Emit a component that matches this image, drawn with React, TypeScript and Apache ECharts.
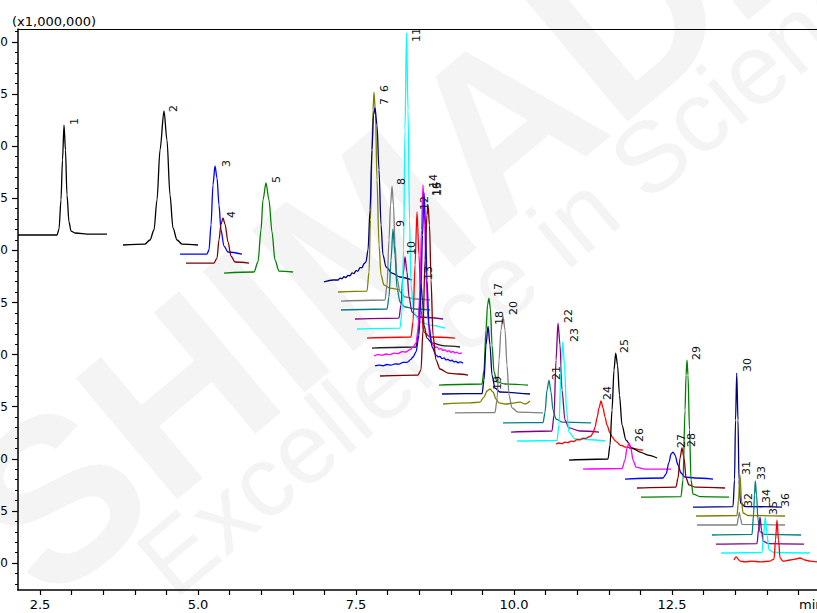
import React, { useEffect, useRef } from "react";
import * as echarts from "echarts";

// ---- axis ticks / labels ----
const xLabelValues = [2.5, 5.0, 7.5, 10.0, 12.5];
const xTickValues = [2.5, 3.0, 3.5, 4.0, 4.5, 5.0, 5.5, 6.0, 6.5, 7.0, 7.5, 8.0, 8.5, 9.0, 9.5, 10.0, 10.5, 11.0, 11.5, 12.0, 12.5, 13.0, 13.5, 14.0, 14.5];
const yLabelValues = [0, 0.5, 1.0, 1.5, 2.0, 2.5, 3.0, 3.5, 4.0, 4.5, 5.0];
const yMinorValues = [-0.2, -0.1, 0, 0.1, 0.2, 0.3, 0.4, 0.5, 0.6, 0.7, 0.8, 0.9, 1.0, 1.1, 1.2, 1.3, 1.4, 1.5, 1.6, 1.7, 1.8, 1.9, 2.0, 2.1, 2.2, 2.3, 2.4, 2.5, 2.6, 2.7, 2.8, 2.9, 3.0, 3.1, 3.2, 3.3, 3.4, 3.5, 3.6, 3.7, 3.8, 3.9, 4.0, 4.1, 4.2, 4.3, 4.4, 4.5, 4.6, 4.7, 4.8, 4.9, 5.0, 5.1];

// ---- traces: [retention time (min), intensity (x1,000,000)] ----
const t1 = [[2.152,3.148],[2.769,3.148],[2.801,3.205],[2.832,3.484],[2.856,3.868],[2.880,4.203],[2.903,3.964],[2.927,3.532],[2.959,3.273],[2.991,3.186],[3.054,3.167],[3.291,3.157],[3.560,3.157]];
const t2 = [[3.813,3.052],[4.161,3.061],[4.240,3.100],[4.304,3.196],[4.351,3.484],[4.399,3.964],[4.462,4.338],[4.509,4.060],[4.557,3.532],[4.604,3.215],[4.668,3.100],[4.747,3.061],[5.000,3.052]];
const t3 = [[4.715,2.965],[5.142,2.965],[5.174,3.004],[5.206,3.244],[5.237,3.628],[5.269,3.810],[5.301,3.695],[5.332,3.436],[5.364,3.196],[5.411,3.042],[5.475,2.985],[5.696,2.965]];
const t4 = [[4.810,2.879],[5.253,2.879],[5.301,2.927],[5.332,3.100],[5.364,3.253],[5.396,3.311],[5.427,3.253],[5.475,3.081],[5.522,2.946],[5.585,2.889],[5.807,2.879]];
const t5 = [[5.411,2.783],[5.886,2.793],[5.949,2.889],[5.997,3.196],[6.028,3.484],[6.076,3.647],[6.123,3.484],[6.171,3.177],[6.218,2.908],[6.282,2.802],[6.503,2.793]];
const t6 = [[7.215,2.601],[7.674,2.610],[7.706,2.793],[7.729,3.292],[7.753,3.964],[7.769,4.347],[7.785,4.520],[7.809,4.299],[7.832,3.676],[7.864,3.052],[7.896,2.764],[7.943,2.668],[8.038,2.639],[8.196,2.620]];
const t7 = [[6.994,2.697],[7.136,2.716],[7.215,2.716],[7.247,2.735],[7.278,2.728],[7.310,2.748],[7.342,2.740],[7.373,2.760],[7.405,2.757],[7.437,2.784],[7.468,2.778],[7.500,2.806],[7.532,2.802],[7.563,2.835],[7.595,2.833],[7.627,2.872],[7.658,2.889],[7.690,3.004],[7.722,3.388],[7.753,3.964],[7.777,4.299],[7.801,4.367],[7.832,4.203],[7.864,3.772],[7.896,3.244],[7.927,2.956],[7.975,2.841],[8.070,2.783],[8.196,2.745],[8.386,2.716]];
const t8 = [[7.263,2.514],[7.959,2.524],[7.991,2.668],[8.022,3.100],[8.046,3.436],[8.070,3.618],[8.093,3.436],[8.117,3.052],[8.149,2.735],[8.196,2.601],[8.275,2.553],[8.434,2.534],[8.671,2.524]];
const t9 = [[7.263,2.428],[7.991,2.438],[8.022,2.553],[8.054,2.908],[8.085,3.205],[8.117,2.956],[8.149,2.639],[8.196,2.505],[8.275,2.457],[8.434,2.438],[8.671,2.428]];
const t10 = [[7.484,2.342],[8.180,2.351],[8.212,2.476],[8.244,2.764],[8.275,2.937],[8.307,2.793],[8.339,2.553],[8.386,2.409],[8.481,2.361],[8.877,2.342]];
const t11 = [[7.516,2.246],[8.196,2.255],[8.228,2.409],[8.252,3.004],[8.275,4.155],[8.299,5.086],[8.323,4.347],[8.347,3.292],[8.370,2.668],[8.418,2.399],[8.513,2.313],[8.671,2.284],[8.908,2.255]];
const t12 = [[7.674,2.159],[8.370,2.169],[8.402,2.313],[8.434,2.860],[8.465,3.369],[8.497,2.956],[8.528,2.428],[8.576,2.217],[8.671,2.169],[9.066,2.159]];
const t13 = [[7.753,2.063],[8.449,2.073],[8.481,2.188],[8.505,2.476],[8.528,2.687],[8.552,2.524],[8.576,2.284],[8.623,2.159],[8.703,2.111],[8.908,2.083],[9.146,2.073]];
const t14 = [[7.785,1.987],[7.848,2.000],[7.911,1.993],[7.974,2.006],[8.038,2.000],[8.101,2.014],[8.165,2.010],[8.228,2.028],[8.291,2.025],[8.354,2.048],[8.402,2.073],[8.449,2.111],[8.481,2.236],[8.513,2.620],[8.536,3.196],[8.560,3.628],[8.584,3.340],[8.608,2.764],[8.639,2.332],[8.671,2.159],[8.718,2.092],[8.750,2.070],[8.782,2.075],[8.814,2.052],[8.845,2.058],[8.877,2.040],[8.908,2.046],[8.940,2.030],[8.972,2.038],[9.003,2.022],[9.035,2.030],[9.067,2.015],[9.098,2.024],[9.130,2.010],[9.177,2.018]];
const t15 = [[7.801,1.891],[7.864,1.900],[7.927,1.893],[7.990,1.905],[8.054,1.899],[8.117,1.912],[8.180,1.908],[8.244,1.925],[8.307,1.925],[8.370,1.955],[8.402,1.977],[8.449,2.025],[8.497,2.188],[8.528,2.620],[8.552,3.148],[8.576,3.551],[8.600,3.244],[8.623,2.716],[8.655,2.284],[8.703,2.073],[8.766,1.996],[8.798,1.978],[8.829,1.982],[8.861,1.962],[8.893,1.968],[8.924,1.950],[8.956,1.955],[8.987,1.940],[9.019,1.946],[9.051,1.930],[9.082,1.936],[9.114,1.922],[9.146,1.930],[9.193,1.918]];
const t16 = [[7.880,1.795],[8.481,1.804],[8.528,1.852],[8.560,2.236],[8.592,2.908],[8.623,3.340],[8.639,3.436],[8.663,3.244],[8.687,2.716],[8.718,2.188],[8.766,1.948],[8.829,1.862],[8.956,1.823],[9.114,1.814],[9.272,1.804]];
const t17 = [[8.813,1.708],[9.494,1.718],[9.525,1.852],[9.557,2.236],[9.581,2.476],[9.604,2.543],[9.628,2.428],[9.652,2.092],[9.684,1.833],[9.731,1.737],[9.858,1.718],[10.222,1.708]];
const t18 = [[8.861,1.622],[9.494,1.626],[9.525,1.756],[9.557,2.092],[9.589,2.274],[9.620,2.092],[9.652,1.804],[9.699,1.679],[9.778,1.641],[10.253,1.622]];
const t19 = [[8.877,1.526],[9.304,1.536],[9.462,1.545],[9.525,1.593],[9.573,1.651],[9.620,1.670],[9.668,1.641],[9.715,1.574],[9.763,1.536],[9.858,1.526],[10.016,1.536],[10.095,1.545],[10.174,1.526],[10.253,1.555]];
const t20 = [[9.066,1.440],[9.699,1.444],[9.731,1.564],[9.763,1.948],[9.794,2.236],[9.826,2.370],[9.858,2.236],[9.889,1.900],[9.921,1.612],[9.968,1.488],[10.063,1.449],[10.459,1.440]];
const t21 = [[9.826,1.344],[10.459,1.348],[10.491,1.449],[10.522,1.660],[10.554,1.756],[10.585,1.641],[10.617,1.468],[10.665,1.382],[10.759,1.353],[11.218,1.344]];
const t22 = [[9.953,1.257],[10.601,1.267],[10.633,1.420],[10.665,1.948],[10.696,2.303],[10.728,2.092],[10.759,1.660],[10.807,1.372],[10.870,1.296],[11.044,1.267],[11.345,1.257]];
const t23 = [[10.047,1.171],[10.680,1.176],[10.712,1.324],[10.744,1.852],[10.770,2.121],[10.799,1.900],[10.830,1.468],[10.870,1.257],[10.965,1.190],[11.440,1.171]];
const t24 = [[10.665,1.142],[10.712,1.152],[10.759,1.146],[10.807,1.160],[10.854,1.155],[10.901,1.170],[10.949,1.166],[10.996,1.184],[11.044,1.182],[11.092,1.198],[11.139,1.196],[11.187,1.212],[11.218,1.219],[11.250,1.248],[11.282,1.305],[11.313,1.392],[11.345,1.488],[11.377,1.555],[11.408,1.488],[11.440,1.401],[11.472,1.324],[11.519,1.248],[11.566,1.200],[11.598,1.175],[11.630,1.160],[11.677,1.132],[11.709,1.128],[11.756,1.113],[11.803,1.112],[11.851,1.098],[11.914,1.098],[11.978,1.087],[12.041,1.084]];
const t25 = [[10.870,0.988],[11.487,0.998],[11.519,1.132],[11.551,1.468],[11.582,1.852],[11.609,2.015],[11.638,1.900],[11.669,1.612],[11.709,1.324],[11.772,1.180],[11.867,1.104],[11.994,1.065],[12.120,1.036],[12.263,1.008]];
const t26 = [[11.092,0.902],[11.709,0.907],[11.756,0.988],[11.788,1.104],[11.820,1.152],[11.851,1.094],[11.883,0.988],[11.930,0.921],[12.073,0.902],[12.484,0.902]];
const t27 = [[11.756,0.806],[12.358,0.816],[12.405,0.854],[12.453,0.969],[12.484,1.046],[12.516,1.065],[12.547,1.036],[12.595,0.940],[12.642,0.864],[12.706,0.825],[12.864,0.816],[13.149,0.806]];
const t28 = [[11.946,0.720],[12.563,0.729],[12.595,0.816],[12.627,1.008],[12.658,1.104],[12.690,1.008],[12.722,0.816],[12.769,0.749],[12.864,0.729],[13.339,0.720]];
const t29 = [[12.009,0.633],[12.642,0.638],[12.674,0.797],[12.706,1.468],[12.722,1.804],[12.737,1.948],[12.753,1.804],[12.777,1.276],[12.801,0.797],[12.832,0.662],[12.943,0.638],[13.402,0.633]];
const t30 = [[12.832,0.537],[13.465,0.542],[13.489,0.797],[13.505,1.372],[13.524,1.823],[13.544,1.372],[13.560,0.797],[13.584,0.576],[13.655,0.542],[14.241,0.537]];
const t31 = [[12.880,0.451],[13.528,0.456],[13.552,0.605],[13.576,0.845],[13.599,0.605],[13.623,0.480],[13.703,0.456],[14.288,0.451]];
const t32 = [[12.896,0.365],[13.528,0.365],[13.549,0.432],[13.565,0.489],[13.581,0.432],[13.608,0.370],[14.288,0.365]];
const t33 = [[13.133,0.269],[13.766,0.274],[13.790,0.461],[13.805,0.653],[13.818,0.787],[13.837,0.653],[13.861,0.413],[13.892,0.298],[13.972,0.274],[14.541,0.269]];
const t34 = [[13.196,0.182],[13.845,0.187],[13.869,0.317],[13.892,0.441],[13.916,0.317],[13.940,0.211],[14.019,0.187],[14.589,0.182]];
const t35 = [[13.275,0.096],[13.924,0.101],[13.948,0.269],[13.976,0.441],[14.003,0.269],[14.035,0.125],[14.114,0.101],[14.684,0.096]];
const t36 = [[13.481,0.029],[13.513,0.058],[13.576,0.019],[13.655,0.010],[13.766,0.019],[13.892,0.010],[14.051,0.019],[14.114,0.038],[14.138,0.221],[14.161,0.413],[14.185,0.221],[14.209,0.048],[14.256,0.019],[14.367,0.029],[14.446,0.038],[14.525,0.048],[14.604,0.029],[14.684,0.019],[14.794,0.010]];

const peakNames = ["1","2","3","4","5","6","7","8","9","10","11","12","13","14","15","16","17","18","19","20","21","22","23","24","25","26","27","28","29","30","31","32","33","34","35","36"];

const traces = [t1,t2,t3,t4,t5,t6,t7,t8,t9,t10,t11,t12,t13,t14,t15,t16,t17,t18,t19,t20,t21,t22,t23,t24,t25,t26,t27,t28,t29,t30,t31,t32,t33,t34,t35,t36];

// styling
const traceColors = ["#000000","#000000","#0000ff","#800000","#008000","#808000","#000080","#808080","#008080","#800080","#00ffff","#ff0000","#202020","#ff00ff","#0000ff","#800000","#008000","#000080","#808000","#808080","#008080","#800080","#00ffff","#ff0000","#000000","#ff00ff","#0000ff","#800000","#008000","#000080","#808000","#808080","#008080","#800080","#00ffff","#ff0000"];
// label anchor offsets from the peak, in px
const labelOffsets = [[4.5,0],[4.5,1],[5.5,1],[2.5,0],[4.5,0],[4.5,0],[3.5,-3],[3.5,-1],[2.5,-2],[1.5,-2],[4,9],[2.5,-2],[2.5,-3],[5.5,3],[7.5,3],[3,-9],[4.5,-1],[5.5,-1],[2.5,1],[4.5,-1],[1.5,0],[5.5,0],[6,0],[0.5,-1],[3,0],[4.5,-1],[2.5,-4],[3.5,-1],[4.5,0],[5,-1],[0.5,0],[4,-5],[1,-1],[1.5,-14],[3,-2],[3,-13]];

const AXIS_FONT = "DejaVu Sans";
const LABEL_FONT = "DejaVu Sans";

export default function App() {
  const ref = useRef<HTMLDivElement>(null);
  useEffect(() => {
    if (!ref.current) return;
    const chart = echarts.init(ref.current, null, { renderer: "svg" });
    const xMin = 2.152, xMax = 14.794, yMin = -0.259, yMax = 5.125;
    const series = traces.map((t, i) => ({
      type: "line",
      data: t,
      showSymbol: false,
      symbol: "none",
      smooth: 0.3,
      smoothMonotone: "x",
      silent: true,
      lineStyle: { color: traceColors[i], width: 1.3 },
      z: 2 + i * 0.01,
    }));
    const watermark = [
      {
        type: "text", x: -3, y: 547, rotation: 0.698, z: -10, silent: true,
        style: { text: "SHIMADZU", fill: "#f4f4f4", font: "bold 230px 'Liberation Sans'", align: "left", verticalAlign: "middle", textAlign: "left", textVerticalAlign: "middle" },
      },
      {
        type: "text", x: 152, y: 574, rotation: 0.698, z: -10, silent: true,
        style: { text: "Excellence in Science", fill: "#f4f4f4", font: "100px 'Liberation Sans'", align: "left", verticalAlign: "middle", textAlign: "left", textVerticalAlign: "middle" },
      },
    ];
    chart.setOption({
      animation: false,
      backgroundColor: "#ffffff",
      grid: { left: 18, right: 0, top: 29, bottom: 23, containLabel: false, outerBoundsMode: "none" },
      xAxis: [
        {
          type: "value", min: xMin, max: xMax, position: "bottom",
          axisLine: { show: true, onZero: false, lineStyle: { color: "#000", width: 1.5 } },
          axisTick: { show: true, length: 5, customValues: xTickValues, lineStyle: { color: "#000", width: 1.2 } },
          axisLabel: { show: true, customValues: xLabelValues, formatter: (v: number) => v.toFixed(1), color: "#000", fontSize: 13, fontFamily: AXIS_FONT, margin: 8 },
          splitLine: { show: false },
        },
        {
          type: "value", min: xMin, max: xMax, position: "top",
          axisLine: { show: true, onZero: false, lineStyle: { color: "#000", width: 1 } },
          axisTick: { show: false }, axisLabel: { show: false }, splitLine: { show: false },
        },
      ],
      yAxis: [
        {
          type: "value", min: yMin, max: yMax, position: "left",
          axisLine: { show: true, onZero: false, lineStyle: { color: "#000", width: 1.5 } },
          axisTick: { show: true, length: 6, customValues: yLabelValues, lineStyle: { color: "#000", width: 1.2 } },
          axisLabel: { show: true, customValues: yLabelValues, formatter: (v: number) => v.toFixed(1), color: "#000", fontSize: 12, fontFamily: AXIS_FONT, margin: 10 },
          splitLine: { show: false },
        },
        {
          type: "value", min: yMin, max: yMax, position: "left",
          axisLine: { show: false },
          axisTick: { show: true, length: 3, customValues: yMinorValues, lineStyle: { color: "#000", width: 1 } },
          axisLabel: { show: false }, splitLine: { show: false },
        },
      ],
      series,
      graphic: watermark,
    });

    const labels = traces.map((t, i) => {
      let pk = t[0];
      for (const p of t) if (p[1] > pk[1]) pk = p;
      const pix = chart.convertToPixel({ xAxisIndex: 0, yAxisIndex: 0 }, pk) as number[];
      const [dx, dy] = labelOffsets[i];
      return {
        type: "text", x: pix[0] + dx, y: pix[1] + dy, rotation: Math.PI / 2, z: 50, silent: true,
        style: { text: peakNames[i], fill: "#111", font: `11px '${LABEL_FONT}'`, align: "left", verticalAlign: "top", textAlign: "left", textVerticalAlign: "top" },
      };
    });
    chart.setOption({
      graphic: [
        ...watermark,
        ...labels,
        { type: "text", x: 12, y: 15, z: 50, silent: true, style: { text: "(x1,000,000)", fill: "#000", font: `13px '${AXIS_FONT}'`, align: "left", verticalAlign: "top", textAlign: "left", textVerticalAlign: "top" } },
        { type: "text", x: 799, y: 598, z: 50, silent: true, style: { text: "min", fill: "#000", font: `13px '${AXIS_FONT}'`, align: "left", verticalAlign: "top", textAlign: "left", textVerticalAlign: "top" } },
      ],
    });
    return () => chart.dispose();
  }, []);
  return <div ref={ref} style={{ position: "absolute", left: 0, top: 0, width: 817, height: 613 }} />;
}
